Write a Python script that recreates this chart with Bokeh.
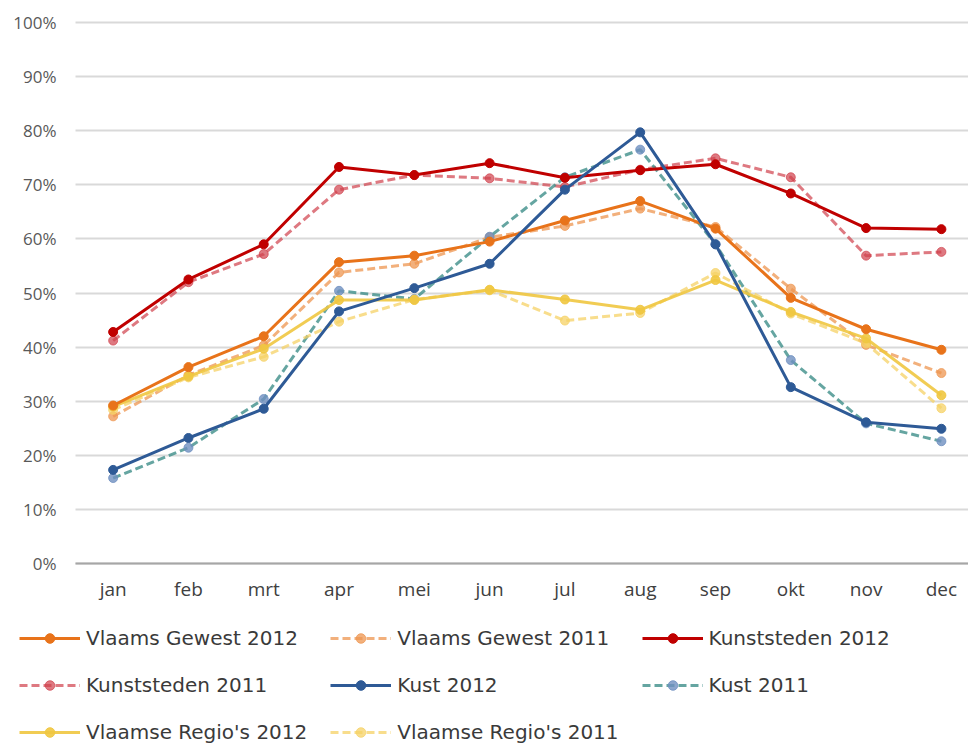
from bokeh.plotting import figure
from bokeh.models import Range1d, FixedTicker, PrintfTickFormatter, Legend, LegendItem
from bokeh.embed import file_html
from bokeh.resources import INLINE

months = ["jan", "feb", "mrt", "apr", "mei", "jun", "jul", "aug", "sep", "okt", "nov", "dec"]
y_ticks = [0, 10, 20, 30, 40, 50, 60, 70, 80, 90, 100]

vlaams_gewest_2012 = [29.2, 36.3, 42.0, 55.7, 56.9, 59.5, 63.4, 67.0, 61.9, 49.1, 43.3, 39.5]
vlaams_gewest_2011 = [27.2, 34.8, 40.3, 53.8, 55.4, 60.3, 62.4, 65.6, 62.2, 50.8, 40.4, 35.2]
kunststeden_2012 = [42.8, 52.5, 59.0, 73.3, 71.8, 74.0, 71.3, 72.7, 73.8, 68.4, 62.0, 61.8]
kunststeden_2011 = [41.2, 52.0, 57.2, 69.1, 71.8, 71.2, 69.6, 72.8, 74.9, 71.4, 56.9, 57.6]
kust_2012 = [17.3, 23.2, 28.6, 46.6, 50.9, 55.4, 69.1, 79.7, 59.0, 32.6, 26.1, 24.9]
kust_2011 = [15.8, 21.4, 30.4, 50.4, 48.9, 60.4, 71.4, 76.5, 59.0, 37.6, 25.9, 22.6]
regio_2012 = [29.0, 34.6, 39.7, 48.7, 48.7, 50.6, 48.8, 46.9, 52.4, 46.5, 41.6, 31.1]
regio_2011 = [28.4, 34.4, 38.2, 44.7, 48.8, 50.5, 44.9, 46.3, 53.7, 46.2, 40.7, 28.7]

x = list(range(len(months)))

FONT = "Open Sans"
LEGEND_FONT = "DejaVu Sans"

# plotting area: categories from -0.5 to 11.36, the rest of the canvas holds labels and legend
X_LO, X_HI = -0.5, 11.36
p = figure(width=968, height=744, output_backend="svg", toolbar_location=None,
           x_range=Range1d(-1.496, X_HI), y_range=Range1d(-33.46, 104.07),
           min_border_left=0, min_border_right=0, min_border_top=0, min_border_bottom=0)
p.outline_line_color = None
p.background_fill_color = "white"
p.border_fill_color = "white"

p.yaxis.fixed_location = X_LO
p.xaxis.fixed_location = 0
p.xaxis.bounds = (X_LO, X_HI)

p.xgrid.visible = False
ygrid = p.ygrid[0]
if "cross_bounds" in ygrid.properties():
    ygrid.cross_bounds = (X_LO, X_HI)
    ygrid.grid_line_color = "#d9d9d9"
    ygrid.grid_line_width = 2
else:
    ygrid.visible = False
    p.segment(x0=[X_LO] * len(y_ticks), x1=[X_HI] * len(y_ticks), y0=y_ticks, y1=y_ticks,
              line_color="#d9d9d9", line_width=2, level="underlay")

p.yaxis.ticker = FixedTicker(ticks=y_ticks)
p.yaxis.formatter = PrintfTickFormatter(format="%d%%")
p.yaxis.axis_line_color = None
p.yaxis.major_tick_line_color = None
p.yaxis.minor_tick_line_color = None
p.yaxis.major_label_standoff = 13
p.yaxis.major_label_text_font = FONT
p.yaxis.major_label_text_font_size = "17px"
p.yaxis.major_label_text_color = "#595959"

p.xaxis.ticker = FixedTicker(ticks=x)
p.xaxis.major_label_overrides = {i: m for i, m in enumerate(months)}
p.xaxis.axis_line_color = "#a6a6a6"
p.xaxis.axis_line_width = 2
p.xaxis.major_tick_line_color = None
p.xaxis.minor_tick_line_color = None
p.xaxis.major_label_standoff = 7
p.xaxis.major_label_text_font = FONT
p.xaxis.major_label_text_font_size = "19px"
p.xaxis.major_label_text_color = "#404040"

series = [
    ("Vlaams Gewest 2012", vlaams_gewest_2012, "#E8731A", "#E8731A", None, 1.0),
    ("Vlaams Gewest 2011", vlaams_gewest_2011, "#EE9650", "#EE9650", "8 4", 0.75),
    ("Kunststeden 2012", kunststeden_2012, "#C00000", "#C00000", None, 1.0),
    ("Kunststeden 2011", kunststeden_2011, "#D0404C", "#D0404C", "8 4", 0.7),
    ("Kust 2012", kust_2012, "#2E5A96", "#2E5A96", None, 1.0),
    ("Kust 2011", kust_2011, "#3E8E8A", "#6F90C0", "8 4", 0.8),
    ("Vlaamse Regio's 2012", regio_2012, "#F0C640", "#F0C640", None, 0.9),
    ("Vlaamse Regio's 2011", regio_2011, "#F5D266", "#F5D266", "8 4", 0.75),
]

draw_order = [1, 3, 5, 7, 6, 0, 2, 4]
items = {}
for idx in draw_order:
    name, vals, lc, mc, dash, alpha = series[idx]
    kw = dict(line_color=lc, line_width=3, line_alpha=alpha)
    if dash:
        kw["line_dash"] = dash
    r1 = p.line(x, vals, **kw)
    r2 = p.scatter(x, vals, size=9, fill_color=mc, line_color=mc, fill_alpha=alpha, line_alpha=alpha)
    items[idx] = LegendItem(label=name, renderers=[r1, r2])

legend = Legend(items=[items[i] for i in range(len(series))],
                orientation="horizontal", ncols=3,
                location=(19, 0), padding=0, margin=0, spacing=23,
                glyph_width=61, glyph_height=24, label_height=24, label_standoff=6,
                label_text_font=LEGEND_FONT, label_text_font_size="20px", label_text_color="#3a3a3a",
                border_line_color=None, background_fill_alpha=0)
p.add_layout(legend, "center")

open("out.html", "w").write(file_html(p, INLINE))
